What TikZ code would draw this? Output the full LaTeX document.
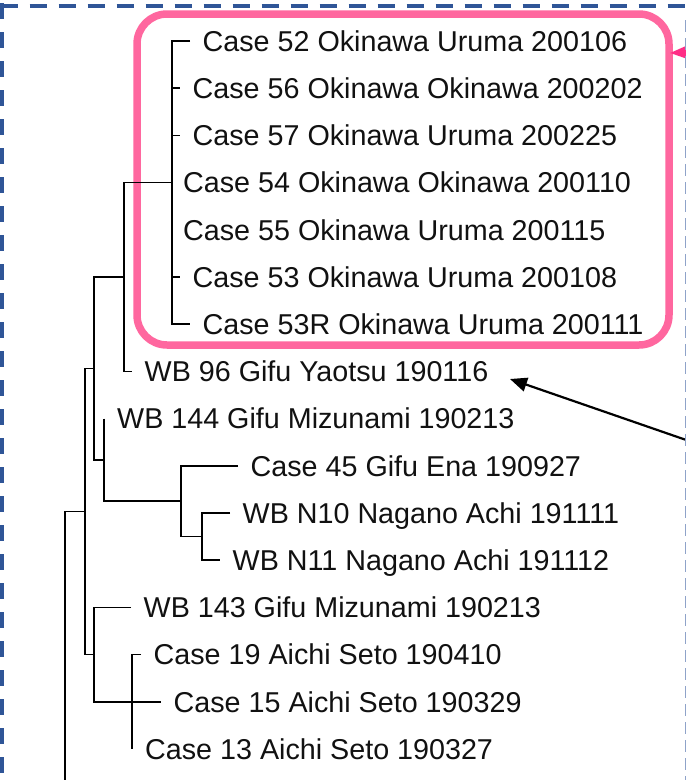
\documentclass[tikz,border=0pt]{standalone}
\usepackage{fontspec}
\setmainfont{Liberation Sans}
\usetikzlibrary{arrows.meta}
\definecolor{bordblue}{HTML}{2F5597}
\definecolor{edgeblue}{HTML}{8FA3C9}
\definecolor{pinkbox}{HTML}{FF679F}
\definecolor{pinkarrow}{HTML}{FF2D86}
\definecolor{txt}{HTML}{111111}
\begin{document}
\begin{tikzpicture}[x=1pt,y=-1pt,
  leaf/.style={anchor=west, inner sep=0pt, text height=20.6pt, text depth=0pt,
    text=txt, font=\fontsize{28.7}{34}\selectfont},
  branch/.style={line width=1.6pt, black},
  pointer/.style={line width=2.2pt, black, -{Triangle[length=17pt,width=14pt]}},
  groupbox/.style={pinkbox, line width=7.5pt, rounded corners=30pt}]
\useasboundingbox (0,0) rectangle (686,780);
\clip (0,0) rectangle (686,780);
\fill[white] (0,0) rectangle (686,780);

% highlight box
\draw[groupbox] (137,14) rectangle (669,345);

% leaves
\node[leaf] (l52)  at (202.5,41.0)  {Case 52 Okinawa Uruma 200106};
\node[leaf] (l56)  at (192.5,88.2)  {Case 56 Okinawa Okinawa 200202};
\node[leaf] (l57)  at (192.5,135.4) {Case 57 Okinawa Uruma 200225};
\node[leaf] (l54)  at (183.0,182.6) {Case 54 Okinawa Okinawa 200110};
\node[leaf] (l55)  at (183.0,229.8) {Case 55 Okinawa Uruma 200115};
\node[leaf] (l53)  at (192.5,277.0) {Case 53 Okinawa Uruma 200108};
\node[leaf] (l53R) at (202.5,324.2) {Case 53R Okinawa Uruma 200111};
\node[leaf] (l96)  at (144.5,371.4) {WB 96 Gifu Yaotsu 190116};
\node[leaf] (l144) at (117.0,418.6) {WB 144 Gifu Mizunami 190213};
\node[leaf] (l45)  at (250.5,465.8) {Case 45 Gifu Ena 190927};
\node[leaf] (lN10) at (242.5,513.0) {WB N10 Nagano Achi 191111};
\node[leaf] (lN11) at (232.5,560.2) {WB N11 Nagano Achi 191112};
\node[leaf] (l143) at (143.5,607.4) {WB 143 Gifu Mizunami 190213};
\node[leaf] (l19)  at (153.5,654.6) {Case 19 Aichi Seto 190410};
\node[leaf] (l15)  at (173.5,701.8) {Case 15 Aichi Seto 190329};
\node[leaf] (l13)  at (145.0,749.0) {Case 13 Aichi Seto 190327};

% tick ends
\foreach \n in {52,56,57,53,53R,96,45,N10,N11,143,19,15}
  \coordinate (t\n) at ([xshift=-12.5pt]l\n.west);

% internal nodes
\coordinate (nA)  at (172,182.6);
\coordinate (nB)  at (124,277.0);
\coordinate (nE)  at (94,368.5);
\coordinate (nD)  at (104,459.9);
\coordinate (nC1) at (181,501.2);
\coordinate (nC2) at (202,536.6);
\coordinate (nG)  at (85,511.5);
\coordinate (nF1) at (94,654.6);
\coordinate (nF2) at (132,701.8);
\coordinate (nH)  at (65,511.5);
\coordinate (nRoot) at (65,800);

% branches
\draw[branch] (t52) -| (nA) |- (t53R);
\draw[branch] (nA |- t56) -- (t56);
\draw[branch] (nA |- t57) -- (t57);
\draw[branch] (nA |- t53) -- (t53);
\draw[branch] (nA) -| (nB) |- (t96);
\draw[branch] (nB) -| (nE) |- (nD);
\draw[branch] (nD |- l144.west) |- (nC1);
\draw[branch] (t45) -| (nC1) |- (nC2);
\draw[branch] (tN10) -| (nC2) |- (tN11);
\draw[branch] (nE) -| (nG) |- (nF1);
\draw[branch] (t143) -| (nF1) |- (t15);
\draw[branch] (t19) -| (nF2 |- l13.west);
\draw[branch] (nG) -- (nH) -- (nRoot);

% arrows
\coordinate (arrStart) at (692,442);
\coordinate (arrTip) at (510,379);
\draw[pointer] (arrStart) -- (arrTip);
\coordinate (pinkStart) at (740,50);
\coordinate (pinkTip) at (670,53);
\draw[pinkarrow, line width=3pt, -{Triangle[length=24pt,width=18pt]}] (pinkStart) -- (pinkTip);

% dashed frame
\draw[bordblue, line width=4pt, dash pattern=on 17pt off 12pt] (0.7,5.7) -- (700,5.7);
\draw[bordblue, line width=4pt, dash pattern=on 16pt off 13pt] (2.2,3) -- (2.2,790);
\draw[edgeblue, line width=1.8pt, dash pattern=on 12pt off 6pt] (685.5,20) -- (685.5,790);
\end{tikzpicture}
\end{document}
